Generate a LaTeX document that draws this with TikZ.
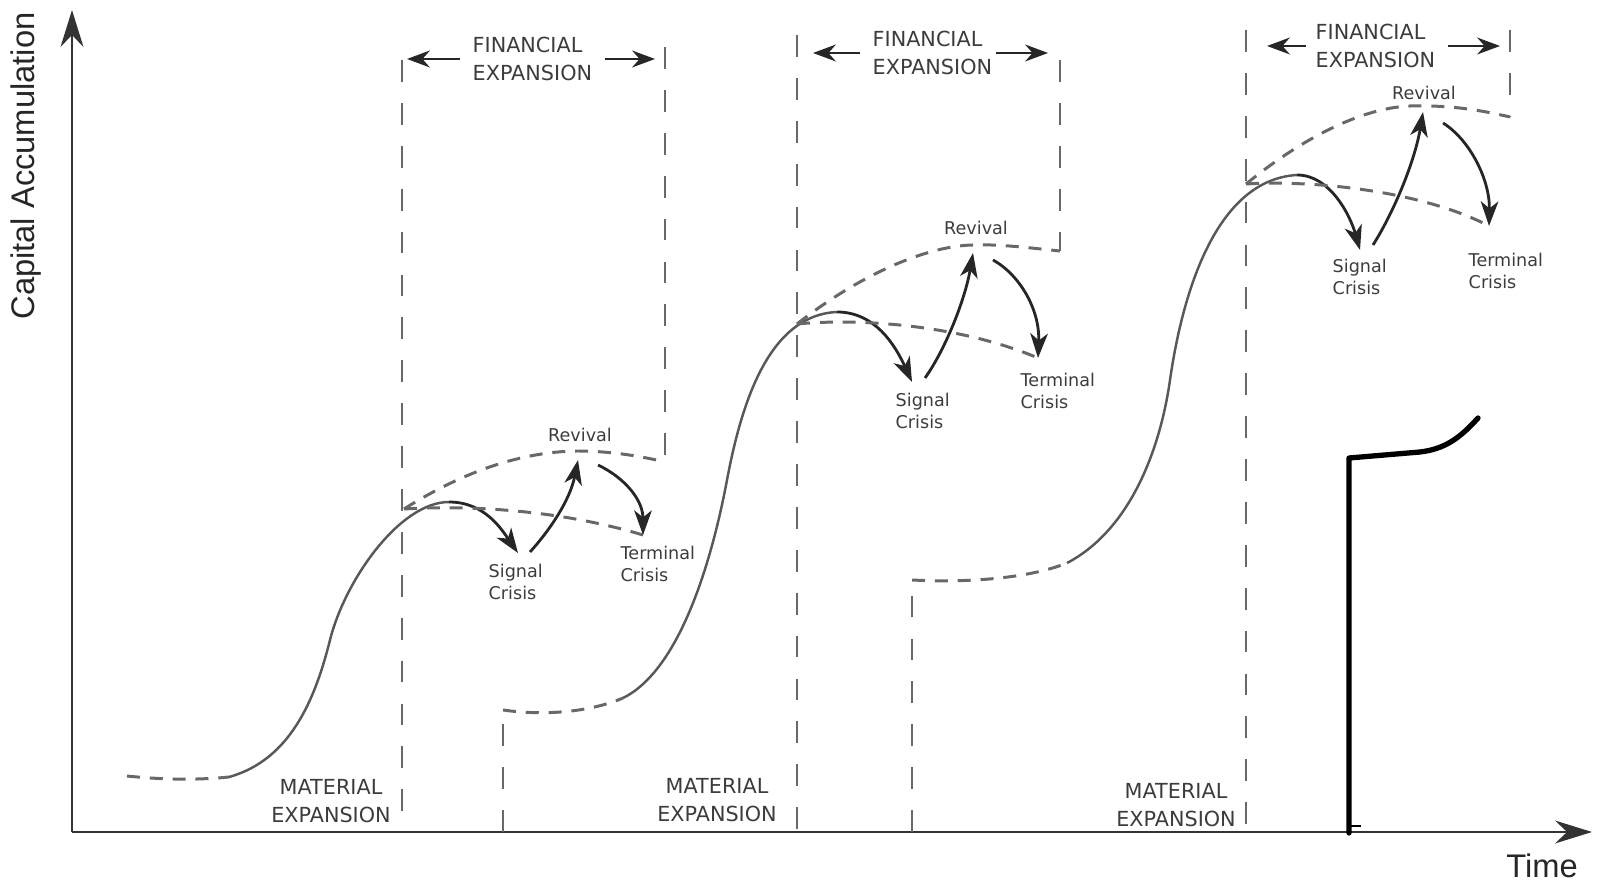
\documentclass[tikz,border=0pt]{standalone}
\usepackage{fontspec}
\usepackage{xcolor}
\usetikzlibrary{arrows.meta}
\newfontfamily\lblfont{DejaVu Sans}
\newfontfamily\axisfont{Liberation Sans}
\definecolor{inkgray}{HTML}{3C3C3C}
\definecolor{dashgray}{HTML}{686868}
\definecolor{curvegray}{HTML}{585858}
\tikzset{
  axisline/.style={draw=black!80, line width=0.7pt, -{Stealth[length=10.5pt,width=6.5pt]}},
  phaseline/.style={draw=dashgray, line width=0.75pt, dash pattern=on 6.2pt off 6pt},
  trendline/.style={draw=dashgray, line width=0.85pt, dash pattern=on 3.7pt off 2.8pt},
  growthline/.style={draw=curvegray, line width=0.7pt},
  crisisarrow/.style={draw=black!85, line width=0.8pt, -{Stealth[length=7pt,width=5pt,inset=2pt]}},
  spanarrow/.style={draw=black!85, line width=0.6pt, -{Stealth[length=6.5pt,width=4.8pt]}},
  phaselabel/.style={text=inkgray, font=\lblfont\fontsize{5.9}{7.8}\selectfont, inner sep=0pt},
  crisislabel/.style={text=inkgray, font=\lblfont\fontsize{5}{6.2}\selectfont, inner sep=0pt, align=left, anchor=west},
  axislabel/.style={text=black!85, font=\axisfont\fontsize{9.3}{11}\selectfont, inner sep=0pt}
}

\begin{document}
\begin{tikzpicture}[x=0.01cm, y=-0.01cm]
\useasboundingbox (0,0) rectangle (1601,895);
% axes
\coordinate (origin) at (72,832);
\coordinate (ytip) at (72,10);
\coordinate (xtip) at (1592,832);
\draw[axisline] (origin) -- (ytip);
\draw[axisline] (origin) -- (xtip);
\node[axislabel, rotate=90] (ylabel) at (26,166) {Capital Accumulation};
\node[axislabel] (xlabel) at (1542,866) {Time};

% phase boundaries
\coordinate (bend1) at (665,462);
\coordinate (bend2) at (1060,251);
\coordinate (bend3) at (1510,117);
\coordinate (corner2) at (503,710);
\coordinate (corner3) at (912,580);
\draw[phaseline] (402,60) -- (402,832);
\draw[phaseline] (665,47) -- (bend1);
\draw[phaseline] (797,35) -- (797,832);
\draw[phaseline] (1060,60) -- (bend2);
\draw[phaseline] (1246,30) -- (1246,832);
\draw[phaseline] (1510,30) -- (bend3);
\draw[phaseline] (503,832) -- (corner2);
\draw[phaseline] (912,832) -- (corner3);

% phase labels
\node[phaselabel, align=left, anchor=west] (fin1) at (472,59) {FINANCIAL\\EXPANSION};
\node[phaselabel, align=left, anchor=west] (fin2) at (872,53) {FINANCIAL\\EXPANSION};
\node[phaselabel, align=left, anchor=west] (fin3) at (1315,46) {FINANCIAL\\EXPANSION};
\coordinate (lend1) at (407,59);
\coordinate (rend1) at (655,59);
\coordinate (lend2) at (813,53);
\coordinate (rend2) at (1048,53);
\coordinate (lend3) at (1267,46);
\coordinate (rend3) at (1500,46);
\draw[spanarrow] ([xshift=-3.4pt]fin1.west) -- (lend1);
\draw[spanarrow] ([xshift=3.4pt]fin1.east) -- (rend1);
\draw[spanarrow] ([xshift=-3.4pt]fin2.west) -- (lend2);
\draw[spanarrow] ([xshift=1pt]fin2.east) -- (rend2);
\draw[spanarrow] ([xshift=-2.5pt]fin3.west) -- (lend3);
\draw[spanarrow] ([xshift=3.4pt]fin3.east) -- (rend3);
\node[phaselabel, align=center] (mat1) at (331,801) {MATERIAL\\EXPANSION};
\node[phaselabel, align=center] (mat2) at (717,800) {MATERIAL\\EXPANSION};
\node[phaselabel, align=center] (mat3) at (1176,805) {MATERIAL\\EXPANSION};

% cycle 1
\coordinate (start1) at (229,777);
\coordinate (peak1) at (449,502);
\coordinate (fork1) at (404,509);
\coordinate (crest1) at (577,451);
\coordinate (sig1) at (518,553);
\coordinate (sigfoot1) at (530,552);
\coordinate (rev1) at (578,460);
\coordinate (revfoot1) at (598,465);
\coordinate (term1) at (643,535);
\draw[trendline] (127,776) .. controls (165,780) and (200,780) .. (start1);
\draw[growthline] (start1) .. controls (290,760) and (315,700) .. (330,640) .. controls (345,580) and (400,502) .. (peak1);
\draw[crisisarrow] (peak1) .. controls (485,502) and (502,530) .. (sig1);
\draw[trendline] (fork1) .. controls (470,505) and (560,510) .. (term1);
\draw[trendline] (fork1) .. controls (450,480) and (510,452) .. (crest1) .. controls (610,451) and (640,456) .. (bend1);
\draw[crisisarrow] (sigfoot1) .. controls (550,530) and (570,500) .. (rev1);
\draw[crisisarrow] (revfoot1) .. controls (625,478) and (643,500) .. (term1);
\node[crisislabel] (siglbl1) at (488,582) {Signal\\Crisis};
\node[crisislabel, anchor=center] (revlbl1) at (580,435) {Revival};
\node[crisislabel] (termlbl1) at (620,564) {Terminal\\Crisis};

% cycle 2
\coordinate (start2) at (623,698);
\coordinate (peak2) at (837,312);
\coordinate (fork2) at (797,324);
\coordinate (crest2) at (973,245);
\coordinate (sig2) at (912,382);
\coordinate (sigfoot2) at (925,378);
\coordinate (rev2) at (973,253);
\coordinate (revfoot2) at (993,260);
\coordinate (term2) at (1038,358);
\draw[trendline] (corner2) .. controls (545,716) and (590,712) .. (start2);
\draw[growthline] (start2) .. controls (680,670) and (712,560) .. (727,480) .. controls (742,400) and (770,315) .. (peak2);
\draw[crisisarrow] (peak2) .. controls (875,312) and (895,345) .. (sig2);
\draw[trendline] (fork2) .. controls (860,318) and (960,325) .. (term2);
\draw[trendline] (fork2) .. controls (850,282) and (920,246) .. (crest2) .. controls (1000,244) and (1030,248) .. (bend2);
\draw[crisisarrow] (sigfoot2) .. controls (945,350) and (965,300) .. (rev2);
\draw[crisisarrow] (revfoot2) .. controls (1020,275) and (1040,310) .. (term2);
\node[crisislabel] (siglbl2) at (895,411) {Signal\\Crisis};
\node[crisislabel, anchor=center] (revlbl2) at (976,228) {Revival};
\node[crisislabel] (termlbl2) at (1020,391) {Terminal\\Crisis};

% cycle 3
\coordinate (start3) at (1067,563);
\coordinate (peak3) at (1297,175);
\coordinate (fork3) at (1246,184);
\coordinate (crest3) at (1410,106);
\coordinate (sig3) at (1360,250);
\coordinate (sigfoot3) at (1373,245);
\coordinate (rev3) at (1423,112);
\coordinate (revfoot3) at (1443,123);
\coordinate (term3) at (1489,226);
\draw[trendline] (corner3) .. controls (970,583) and (1030,578) .. (start3);
\draw[growthline] (start3) .. controls (1130,530) and (1160,450) .. (1170,380) .. controls (1180,310) and (1210,180) .. (peak3);
\draw[crisisarrow] (peak3) .. controls (1330,175) and (1350,215) .. (sig3);
\draw[trendline] (fork3) .. controls (1310,180) and (1420,190) .. (term3);
\draw[trendline] (fork3) .. controls (1300,140) and (1360,108) .. (crest3) .. controls (1450,105) and (1480,110) .. (bend3);
\draw[crisisarrow] (sigfoot3) .. controls (1395,210) and (1415,160) .. (rev3);
\draw[crisisarrow] (revfoot3) .. controls (1470,140) and (1490,180) .. (term3);
\node[crisislabel] (siglbl3) at (1332,277) {Signal\\Crisis};
\node[crisislabel, anchor=center] (revlbl3) at (1424,93) {Revival};
\node[crisislabel] (termlbl3) at (1468,271) {Terminal\\Crisis};

% hand-drawn black stroke
\coordinate (stroke) at (1349,833);
\draw[black, line width=1.5pt, line cap=round, line join=round] (stroke) -- (1349,458) -- (1420,452) .. controls (1445,449) and (1460,438) .. (1478,418);
\draw[black, line width=0.3pt] (1349,826) -- (1361,826);
\end{tikzpicture}
\end{document}
